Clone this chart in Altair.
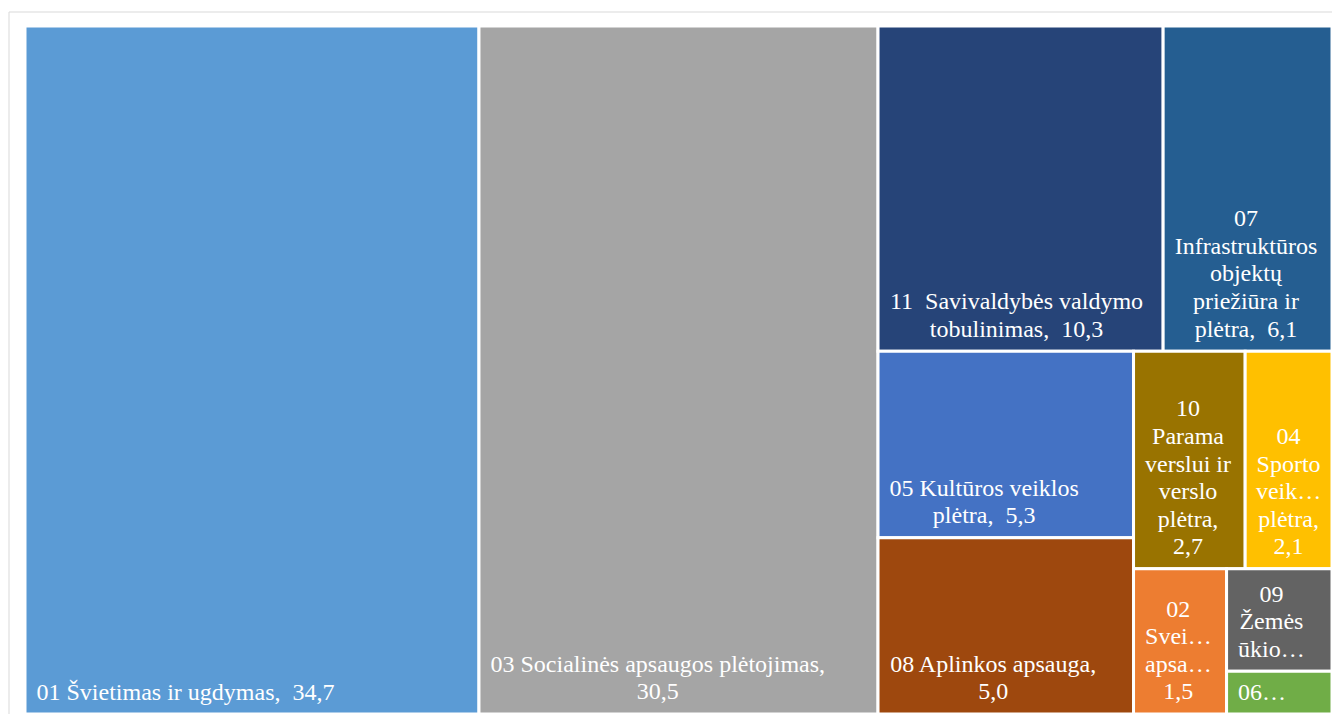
import altair as alt
import pandas as pd
import unicodedata

# ---- data ----
codes = ["01", "03", "11", "07", "05", "08", "10", "04", "02", "09", "06"]
values = [34.7, 30.5, 10.3, 6.1, 5.3, 5.0, 2.7, 2.1, 1.5, 1.2, 0.5]
labels = [
    "01 Švietimas ir ugdymas,  34,7",
    "03 Socialinės apsaugos plėtojimas,\n30,5",
    "11  Savivaldybės valdymo\ntobulinimas,  10,3",
    "07\nInfrastruktūros\nobjektų\npriežiūra ir\nplėtra,  6,1",
    "05 Kultūros veiklos\nplėtra,  5,3",
    "08 Aplinkos apsauga,\n5,0",
    "10\nParama\nverslui ir\nverslo\nplėtra,\n2,7",
    "04\nSporto\nveik…\nplėtra,\n2,1",
    "02\nSvei…\napsa…\n1,5",
    "09\nŽemės\nūkio…",
    "06…",
]
colors = ["#5B9BD5", "#A5A5A5", "#264478", "#255E91", "#4472C4", "#9E480E",
          "#997300", "#FFC000", "#ED7D31", "#636363", "#70AD47"]
# tiles that share one strip of the treemap
strips = [["01"], ["03"], ["11", "07"], ["05", "08"], ["10", "04"], ["02"], ["09"], ["06"]]

W, H = 1307, 688
FS = 24
LH = 27.6

# ---- strip treemap layout computed from the values ----
val = dict(zip(codes, values))
scale = W * H / sum(values)
rx, ry, rw, rh = 0.0, 0.0, float(W), float(H)
rects = {}
for strip in strips:
    s = sum(val[c] for c in strip)
    area = s * scale
    if rw >= rh:  # column at left
        cw = area / rh
        yy = ry
        for c in strip:
            hh = rh * val[c] / s
            rects[c] = (rx, yy, rx + cw, yy + hh)
            yy += hh
        rx += cw
        rw -= cw
    else:  # row at top
        ch = area / rw
        xx = rx
        for c in strip:
            ww = rw * val[c] / s
            rects[c] = (xx, ry, xx + ww, ry + ch)
            xx += ww
        ry += ch
        rh -= ch

# Times-like character widths (per 1000 em) to estimate label block width
cw_tab = {" ": 250, ",": 250, ".": 250, "…": 1000}
cw_tab.update({d: 500 for d in "0123456789"})
cw_tab.update(dict(zip("abcdefghijklmnopqrstuvwxyz",
    [444, 500, 444, 500, 444, 333, 500, 500, 278, 278, 500, 278, 778, 500, 500, 500, 500, 333, 389, 278, 500, 500, 722, 500, 500, 444])))
cw_tab.update(dict(zip("ABCDEFGHIJKLMNOPQRSTUVWXYZ",
    [722, 667, 667, 722, 611, 556, 722, 722, 333, 389, 722, 611, 889, 722, 722, 556, 722, 667, 556, 611, 722, 722, 944, 722, 722, 611])))


def text_w(s):
    t = 0
    for ch in s:
        base = unicodedata.normalize("NFD", ch)[0]
        t += cw_tab.get(ch, cw_tab.get(base, 500))
    return t * FS / 1000.0


rows = []
PAD = 10
for c, lab, col in zip(codes, labels, colors):
    x0, y0, x1, y1 = rects[c]
    lines = lab.split("\n")
    bw = max(text_w(l) for l in lines)
    tw = x1 - x0
    if bw + 2 * PAD >= tw - 3:
        lx = (x0 + x1) / 2
    else:
        lx = x0 + 1.5 + PAD + bw / 2
    # first-line baseline so that the last line sits ~13px above the tile bottom
    ly = y1 - 14.5 - (len(lines) - 1) * LH
    # keep double spaces visible in SVG
    shown = lab.replace("  ", " \u00a0")
    rows.append(dict(code=c, value=val[c], label=shown, x0=x0, y0=y0, x1=x1, y1=y1,
                     lx=lx, ly=ly))
df = pd.DataFrame(rows)

xs = alt.Scale(domain=[0, W], nice=False, zero=False)
ys = alt.Scale(domain=[0, H], nice=False, zero=False, reverse=True)

tiles = alt.Chart(df).mark_rect(stroke="white", strokeWidth=3).encode(
    x=alt.X("x0:Q", scale=xs, axis=None),
    x2="x1:Q",
    y=alt.Y("y0:Q", scale=ys, axis=None),
    y2="y1:Q",
    color=alt.Color("code:N", scale=alt.Scale(domain=codes, range=colors), legend=None),
)

text = alt.Chart(df).mark_text(
    font="Liberation Serif", fontSize=FS, color="white",
    align="center", baseline="alphabetic", lineBreak="\n", lineHeight=LH,
).encode(
    x=alt.X("lx:Q", scale=xs, axis=None),
    y=alt.Y("ly:Q", scale=ys, axis=None),
    text="label:N",
)

frame = alt.Chart(pd.DataFrame({"a": [0]})).mark_rect(
    fill="transparent", stroke="#D9D9D9", strokeWidth=1
).encode(
    x=alt.value(-16), x2=alt.value(1330), y=alt.value(-14), y2=alt.value(720)
)

chart = alt.layer(frame, tiles, text).properties(
    width=W, height=H,
    autosize=alt.AutoSizeParams(type="none"),
    padding={"left": 17, "top": 18, "right": 0, "bottom": 0},
    background="white",
).configure_view(strokeWidth=0)

chart.save("out.html", embed_options={"renderer": "svg", "actions": False})
